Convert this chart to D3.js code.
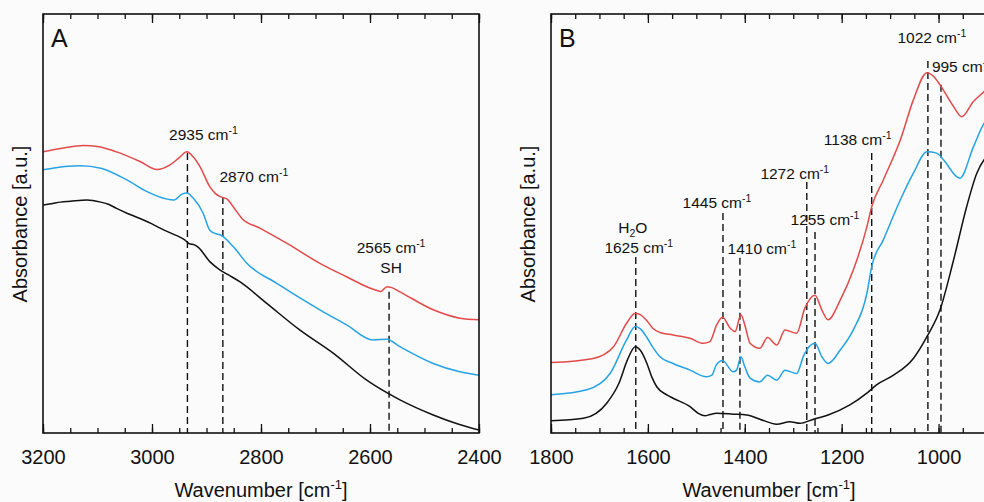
<!DOCTYPE html>
<html>
<head>
<meta charset="utf-8">
<script src="https://cdn.jsdelivr.net/npm/d3@7"></script>
<style>
  body { margin: 0; background: #fbfbfb; }
  svg { display: block; font-family: "Liberation Sans", Arial, sans-serif; }
</style>
</head>
<body>
<div id="chart"></div>
<script>
// ---- data (wavenumber, absorbance a.u.) ----
var redA = [[3200,0.671],[3160,0.681],[3126,0.686],[3100,0.684],[3065,0.671],[3022,0.648],[2991,0.629],[2967,0.640],[2950,0.657],[2936,0.671],[2925,0.660],[2912,0.636],[2894,0.588],[2884,0.572],[2875,0.564],[2862,0.558],[2851,0.540],[2835,0.512],[2802,0.489],[2753,0.453],[2692,0.405],[2643,0.373],[2594,0.343],[2580,0.338],[2569,0.349],[2560,0.347],[2545,0.337],[2484,0.294],[2435,0.274],[2400,0.270]];
var blueA = [[3200,0.628],[3160,0.636],[3131,0.638],[3094,0.632],[3046,0.604],[3009,0.576],[2975,0.559],[2960,0.556],[2945,0.570],[2936,0.573],[2924,0.560],[2906,0.524],[2894,0.484],[2884,0.476],[2875,0.473],[2851,0.445],[2826,0.405],[2771,0.357],[2692,0.294],[2643,0.258],[2594,0.222],[2569,0.224],[2545,0.206],[2484,0.166],[2435,0.146],[2400,0.138]];
var blackA = [[3200,0.544],[3185,0.547],[3168,0.551],[3150,0.553],[3119,0.556],[3094,0.551],[3080,0.546],[3065,0.536],[3045,0.524],[3022,0.512],[3000,0.499],[2985,0.489],[2960,0.474],[2948,0.467],[2940,0.461],[2932,0.452],[2922,0.449],[2915,0.443],[2894,0.409],[2875,0.389],[2858,0.376],[2839,0.361],[2790,0.310],[2729,0.246],[2667,0.190],[2606,0.126],[2545,0.079],[2484,0.043],[2440,0.022],[2400,0.007]];

var redB = [[1800,0.168],[1713,0.178],[1671,0.206],[1644,0.262],[1626,0.286],[1615,0.282],[1602,0.268],[1590,0.250],[1575,0.240],[1548,0.234],[1513,0.226],[1486,0.214],[1472,0.218],[1458,0.258],[1446,0.276],[1430,0.250],[1420,0.242],[1408,0.282],[1400,0.258],[1389,0.214],[1369,0.202],[1353,0.228],[1334,0.210],[1317,0.246],[1293,0.238],[1276,0.298],[1255,0.329],[1241,0.294],[1228,0.270],[1203,0.317],[1176,0.389],[1148,0.492],[1138,0.540],[1114,0.604],[1079,0.699],[1052,0.795],[1024,0.860],[1011,0.852],[997,0.831],[969,0.779],[952,0.755],[928,0.791],[906,0.815],[900,0.822]];
var blueB = [[1800,0.091],[1726,0.103],[1678,0.142],[1644,0.222],[1626,0.254],[1615,0.248],[1602,0.228],[1590,0.205],[1575,0.182],[1548,0.166],[1513,0.150],[1479,0.134],[1468,0.138],[1459,0.162],[1446,0.173],[1424,0.146],[1417,0.150],[1408,0.182],[1400,0.158],[1389,0.131],[1369,0.122],[1353,0.138],[1334,0.126],[1317,0.150],[1293,0.142],[1278,0.186],[1255,0.214],[1241,0.182],[1228,0.166],[1203,0.198],[1176,0.246],[1148,0.333],[1138,0.397],[1114,0.461],[1079,0.556],[1052,0.620],[1024,0.671],[1004,0.668],[990,0.652],[956,0.608],[928,0.683],[906,0.739],[900,0.748]];
var blackB = [[1800,0.029],[1733,0.035],[1685,0.071],[1660,0.118],[1642,0.175],[1626,0.206],[1616,0.198],[1602,0.166],[1592,0.134],[1582,0.111],[1561,0.091],[1548,0.083],[1513,0.063],[1496,0.047],[1482,0.041],[1472,0.044],[1458,0.047],[1424,0.045],[1396,0.043],[1369,0.033],[1334,0.021],[1307,0.027],[1286,0.023],[1258,0.033],[1228,0.043],[1183,0.067],[1148,0.095],[1128,0.115],[1093,0.138],[1052,0.178],[1024,0.230],[997,0.294],[969,0.413],[942,0.540],[921,0.620],[906,0.652],[900,0.660]];

// peak markers: wavenumber, label, extra line, top of dashed line (a.u.)
var peaksA = [
  { wn: 2935, label: "2935", sub: null, top: 0.668 },
  { wn: 2870, label: "2870", sub: null, top: 0.563 },
  { wn: 2565, label: "2565", sub: "SH", top: 0.337 }
];
var peaksB = [
  { wn: 1625, label: "1625", pre: "H2O", top: 0.420 },
  { wn: 1445, label: "1445", top: 0.525 },
  { wn: 1410, label: "1410", top: 0.418 },
  { wn: 1272, label: "1272", top: 0.599 },
  { wn: 1255, label: "1255", top: 0.480 },
  { wn: 1138, label: "1138", top: 0.668 },
  { wn: 1022, label: "1022", top: 0.888 },
  { wn: 995,  label: "995",  top: 0.831 }
];

// label placement (px offset from dashed line, baseline y)
var labelPos = {
  2935: [16, 140], 2870: [31, 182], 2565: [2, 253],
  1625: [3, 253], 1445: [-6, 208], 1410: [22, 254], 1272: [-12, 179],
  1255: [10, 225], 1138: [-14, 145], 1022: [4, 43], 995: [21, 72]
};

var W = 984, H = 502;
var plotTop = 14, plotBottom = 433, plotW = 436;
var colors = { red: "#e24a4a", blue: "#25a3e3", black: "#111111" };

var svg = d3.select("#chart").append("svg").attr("width", W).attr("height", H);

function drawPanel(opts) {
  var x = d3.scaleLinear().domain(opts.domain).range([opts.left, opts.left + plotW]);
  var y = d3.scaleLinear().domain([0, 1]).range([plotBottom, plotTop]);
  var g = svg.append("g");

  var clipId = "clip" + opts.letter;
  g.append("clipPath").attr("id", clipId).append("rect")
    .attr("x", opts.left).attr("y", plotTop).attr("width", plotW).attr("height", plotBottom - plotTop);

  // ticks inside, bottom and top
  var major = d3.range(opts.domain[0], opts.domain[1] - 1, -200);
  var minor = d3.range(opts.domain[0], opts.domain[1] - 1, -50);
  var xb = d3.axisBottom(x).tickValues(minor).tickSize(-5).tickFormat("");
  var xbM = d3.axisBottom(x).tickValues(major).tickSize(-9).tickPadding(17).tickFormat(d3.format("d"));
  var xt = d3.axisTop(x).tickValues(minor).tickSize(-5).tickFormat("");
  var xtM = d3.axisTop(x).tickValues(major).tickSize(-9).tickFormat("");
  [[xb, plotBottom], [xbM, plotBottom], [xt, plotTop], [xtM, plotTop]].forEach(function (a) {
    var ax = g.append("g").attr("transform", "translate(0," + a[1] + ")").call(a[0]);
    ax.select(".domain").remove();
    ax.selectAll("line").attr("stroke", "#111").attr("stroke-width", 1.3);
    ax.selectAll("text").attr("fill", "#111").attr("font-size", 20)
      .attr("font-family", "Liberation Sans, Arial, sans-serif");
  });

  // dashed peak lines
  g.selectAll(".peak").data(opts.peaks).enter().append("line")
    .attr("x1", function (d) { return x(d.wn); }).attr("x2", function (d) { return x(d.wn); })
    .attr("y1", function (d) { return y(d.top); }).attr("y2", plotBottom)
    .attr("stroke", "#111").attr("stroke-width", 1.4).attr("stroke-dasharray", "7,4");

  // spectra
  var line = d3.line()
    .x(function (d) { return x(d[0]); })
    .y(function (d) { return y(d[1]); })
    .curve(d3.curveMonotoneX);
  opts.series.forEach(function (s) {
    g.append("path").datum(s.data)
      .attr("clip-path", "url(#" + clipId + ")")
      .attr("d", line).attr("fill", "none")
      .attr("stroke", s.color).attr("stroke-width", 1.5);
  });

  // peak labels
  opts.peaks.forEach(function (d) {
    var p = labelPos[d.wn];
    var cx = x(d.wn) + p[0];
    var t = g.append("text").attr("x", cx).attr("y", p[1])
      .attr("text-anchor", "middle").attr("font-size", 15.5).attr("fill", "#111");
    t.append("tspan").text(d.label + " cm");
    t.append("tspan").attr("dy", -6).attr("font-size", 10.5).text("-1");
    if (d.sub) {
      g.append("text").attr("x", cx).attr("y", p[1] + 20)
        .attr("text-anchor", "middle").attr("font-size", 15.5).attr("fill", "#111").text(d.sub);
    }
    if (d.pre) {
      var h = g.append("text").attr("x", x(d.wn) - 3).attr("y", p[1] - 20)
        .attr("text-anchor", "middle").attr("font-size", 15.5).attr("fill", "#111");
      h.append("tspan").text("H");
      h.append("tspan").attr("dy", 4).attr("font-size", 10.5).text("2");
      h.append("tspan").attr("dy", -4).text("O");
    }
  });

  // frame
  g.append("rect").attr("x", opts.left).attr("y", plotTop)
    .attr("width", plotW).attr("height", plotBottom - plotTop)
    .attr("fill", "none").attr("stroke", "#111").attr("stroke-width", 1.6);

  // panel letter
  g.append("text").attr("x", opts.left + 8).attr("y", 47)
    .attr("font-size", 25).attr("fill", "#111").text(opts.letter);

  // axis titles
  var xt2 = g.append("text").attr("x", opts.left + 218).attr("y", 497)
    .attr("text-anchor", "middle").attr("font-size", 20).attr("fill", "#111");
  xt2.append("tspan").text("Wavenumber [cm");
  xt2.append("tspan").attr("dy", -8).attr("font-size", 13).text("-1");
  xt2.append("tspan").attr("dy", 8).text("]");

  g.append("text").attr("transform", "translate(" + (opts.left - 16) + ",224) rotate(-90)")
    .attr("text-anchor", "middle").attr("font-size", 20).attr("fill", "#111")
    .text("Absorbance [a.u.]");
}

drawPanel({
  letter: "A", left: 43, domain: [3200, 2400], peaks: peaksA,
  series: [
    { data: blackA, color: colors.black },
    { data: blueA, color: colors.blue },
    { data: redA, color: colors.red }
  ]
});
drawPanel({
  letter: "B", left: 551, domain: [1800, 900], peaks: peaksB,
  series: [
    { data: blackB, color: colors.black },
    { data: blueB, color: colors.blue },
    { data: redB, color: colors.red }
  ]
});
</script>
</body>
</html>
